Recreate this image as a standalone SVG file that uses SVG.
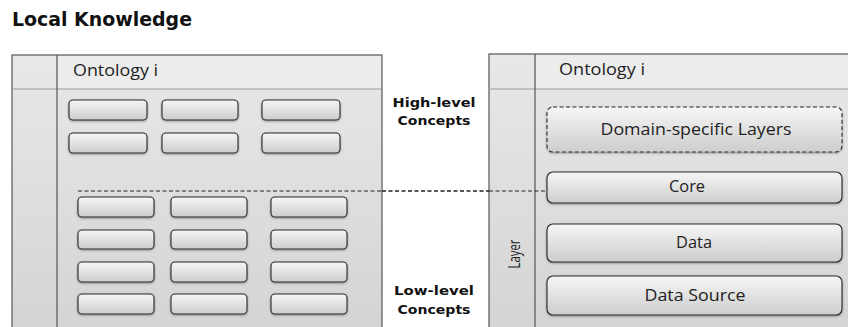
<svg xmlns="http://www.w3.org/2000/svg" width="848" height="327" viewBox="0 0 848 327">
<defs>
<linearGradient id="panelG" x1="0" y1="0" x2="0" y2="1">
<stop offset="0" stop-color="#e8e8e8"/>
<stop offset="1" stop-color="#d3d3d3"/>
</linearGradient>
<linearGradient id="boxG" x1="0" y1="0" x2="0" y2="1">
<stop offset="0" stop-color="#f6f6f6"/>
<stop offset="1" stop-color="#cdcdcd"/>
</linearGradient>
<filter id="sh" x="-10%" y="-20%" width="120%" height="150%">
<feDropShadow dx="0" dy="1" stdDeviation="0.8" flood-color="#000" flood-opacity="0.35"/>
</filter>
</defs>
<style>
.panel{fill:url(#panelG);stroke:#555;stroke-width:1.2}
.sep{stroke:#555;stroke-width:1.2;fill:none}
.hsep{stroke:#9a9a9a;stroke-width:1;fill:none}
.head{fill:#ececec}
.box{fill:url(#boxG);stroke:#2a2a2a;stroke-width:1.1;filter:url(#sh)}
.dbox{fill:url(#boxG);stroke:#2a2a2a;stroke-width:1.1;stroke-dasharray:4 2.5;filter:url(#sh)}
.t{font-family:"Open Sans","Liberation Sans",sans-serif;fill:#222;font-size:15.5px}
.c{text-anchor:middle}
.b{font-family:"DejaVu Sans",sans-serif;font-weight:bold;fill:#111}
.conn{stroke:#222;fill:none;stroke-dasharray:4 2.5}
</style>
<text class="b" x="12" y="26" font-size="19" textLength="180" lengthAdjust="spacingAndGlyphs">Local Knowledge</text>

<g id="left-panel">
<rect class="panel" x="12" y="55" width="370" height="290"/>
<rect class="head" x="58" y="56" width="323" height="33"/>
<line class="hsep" x1="12" y1="89" x2="382" y2="89"/>
<line class="sep" x1="57" y1="55" x2="57" y2="327"/>
<text class="t" x="73" y="76" textLength="85" lengthAdjust="spacingAndGlyphs">Ontology i</text>
</g>
<g id="left-high">
<rect class="box" x="69" y="100" width="78" height="20" rx="4"/>
<rect class="box" x="162" y="100" width="76" height="20" rx="4"/>
<rect class="box" x="262" y="100" width="78" height="20" rx="4"/>
<rect class="box" x="69" y="133" width="78" height="20" rx="4"/>
<rect class="box" x="162" y="133" width="76" height="20" rx="4"/>
<rect class="box" x="262" y="133" width="78" height="20" rx="4"/>
</g>
<g id="left-low">
<rect class="box" x="78" y="197" width="76" height="20" rx="4"/>
<rect class="box" x="171" y="197" width="76" height="20" rx="4"/>
<rect class="box" x="271" y="197" width="76" height="20" rx="4"/>
<rect class="box" x="78" y="230" width="76" height="19" rx="4"/>
<rect class="box" x="171" y="230" width="76" height="19" rx="4"/>
<rect class="box" x="271" y="230" width="76" height="19" rx="4"/>
<rect class="box" x="78" y="262" width="76" height="20" rx="4"/>
<rect class="box" x="171" y="262" width="76" height="20" rx="4"/>
<rect class="box" x="271" y="262" width="76" height="20" rx="4"/>
<rect class="box" x="78" y="294" width="76" height="20" rx="4"/>
<rect class="box" x="171" y="294" width="76" height="20" rx="4"/>
<rect class="box" x="271" y="294" width="76" height="20" rx="4"/>
</g>

<g id="labels">
<text class="b c" x="434" y="107" font-size="12.5" textLength="83" lengthAdjust="spacingAndGlyphs">High-level</text>
<text class="b c" x="434" y="125" font-size="12.5" textLength="73" lengthAdjust="spacingAndGlyphs">Concepts</text>
<text class="b c" x="434" y="295" font-size="12.5" textLength="80" lengthAdjust="spacingAndGlyphs">Low-level</text>
<text class="b c" x="434" y="314" font-size="12.5" textLength="73" lengthAdjust="spacingAndGlyphs">Concepts</text>
</g>

<g id="right-panel">
<rect class="panel" x="489" y="54" width="380" height="290"/>
<rect class="head" x="536" y="55" width="330" height="34"/>
<line class="hsep" x1="489" y1="89" x2="848" y2="89"/>
<line class="sep" x1="535" y1="54" x2="535" y2="327"/>
<text class="t" x="559" y="75" textLength="86" lengthAdjust="spacingAndGlyphs">Ontology i</text>
<text class="t c" transform="translate(520 254) rotate(-90)" font-size="14" textLength="29" lengthAdjust="spacingAndGlyphs">Layer</text>
</g>
<g id="domain">
<rect class="dbox" x="547" y="107" width="295" height="45" rx="6"/>
<text class="t c" x="696" y="135" font-size="16" textLength="191" lengthAdjust="spacingAndGlyphs">Domain-specific Layers</text>
</g>
<g id="core">
<rect class="box" x="547" y="172" width="295" height="31" rx="6"/>
<text class="t c" x="687" y="192" font-size="16" textLength="36" lengthAdjust="spacingAndGlyphs">Core</text>
</g>
<g id="data">
<rect class="box" x="547" y="224" width="295" height="38" rx="6"/>
<text class="t c" x="694" y="248" font-size="16" textLength="36" lengthAdjust="spacingAndGlyphs">Data</text>
</g>
<g id="data-source">
<rect class="box" x="547" y="276" width="295" height="39" rx="6"/>
<text class="t c" x="695" y="301" font-size="16" textLength="101" lengthAdjust="spacingAndGlyphs">Data Source</text>
</g>

<g id="connectors">
<line class="conn" x1="78" y1="191" x2="382" y2="191" stroke-width="1"/>
<line class="conn" x1="382" y1="191" x2="489" y2="191" stroke-width="1.6"/>
<line class="conn" x1="489" y1="191" x2="547" y2="191" stroke-width="1"/>
</g>
</svg>
